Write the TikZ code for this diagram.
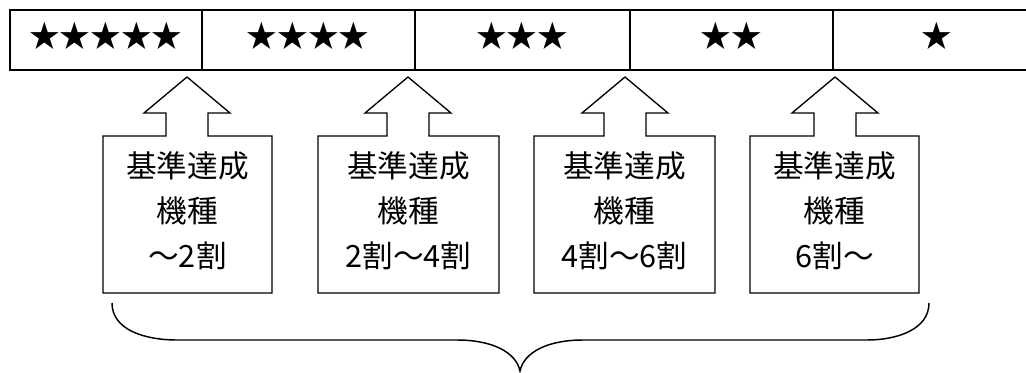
\documentclass[tikz,border=0pt]{standalone}
\usepackage{fontspec}
\setmainfont{Noto Sans CJK JP}
\usepackage{tikz}
\usetikzlibrary{positioning}

\begin{document}
\begin{tikzpicture}[x=0.75pt,y=-0.75pt,
        bar/.style={line width=1.5pt},
        cell/.style={font=\fontsize{23}{23}\selectfont},
        callout/.style={line width=1pt, line join=miter},
        label/.style={align=center, font=\fontsize{23}{33.75}\selectfont},
        bracket/.style={line width=1.1pt}]
        \clip (0,0) rectangle (1026,372);

        % Rating bar
        \draw[bar] (10,10) rectangle (1045,70);
        \foreach \xd in {202,415,630,833}
            \draw[bar] (\xd,10) -- (\xd,70);
        \node[cell] (r5) at (106,36) {★★★★★};
        \node[cell] (r4) at (308,36) {★★★★};
        \node[cell] (r3) at (522,36) {★★★};
        \node[cell] (r2) at (731,36) {★★};
        \node[cell] (r1) at (937,36) {★};

        % Callouts with up arrows
        \foreach \i/\l/\r/\t/\txt in {1/103/272/187/～2割, 2/318/499/408/2割～4割,
                3/534/715/625/4割～6割, 4/750/919/835/6割～} {
            \draw[callout] (\l,136) -- (\t-21,136) -- (\t-21,113) -- (\t-43,113)
                -- (\t,77) -- (\t+43,113) -- (\t+21,113) -- (\t+21,136)
                -- (\r,136) -- (\r,293) -- (\l,293) -- cycle;
            \node[label] (c\i) at ({(\l+\r)/2},211) {基準達成\\機種\\\txt};
        }

        % Brace
        \draw[bracket] (112,303) .. controls (112,330) and (145,340) .. (177,340)
            -- (457,340) .. controls (492,340) and (516,352) .. (520,371)
            .. controls (524,352) and (548,340) .. (583,340)
            -- (867,340) .. controls (896,340) and (929,330) .. (929,303);
\end{tikzpicture}
\end{document}
